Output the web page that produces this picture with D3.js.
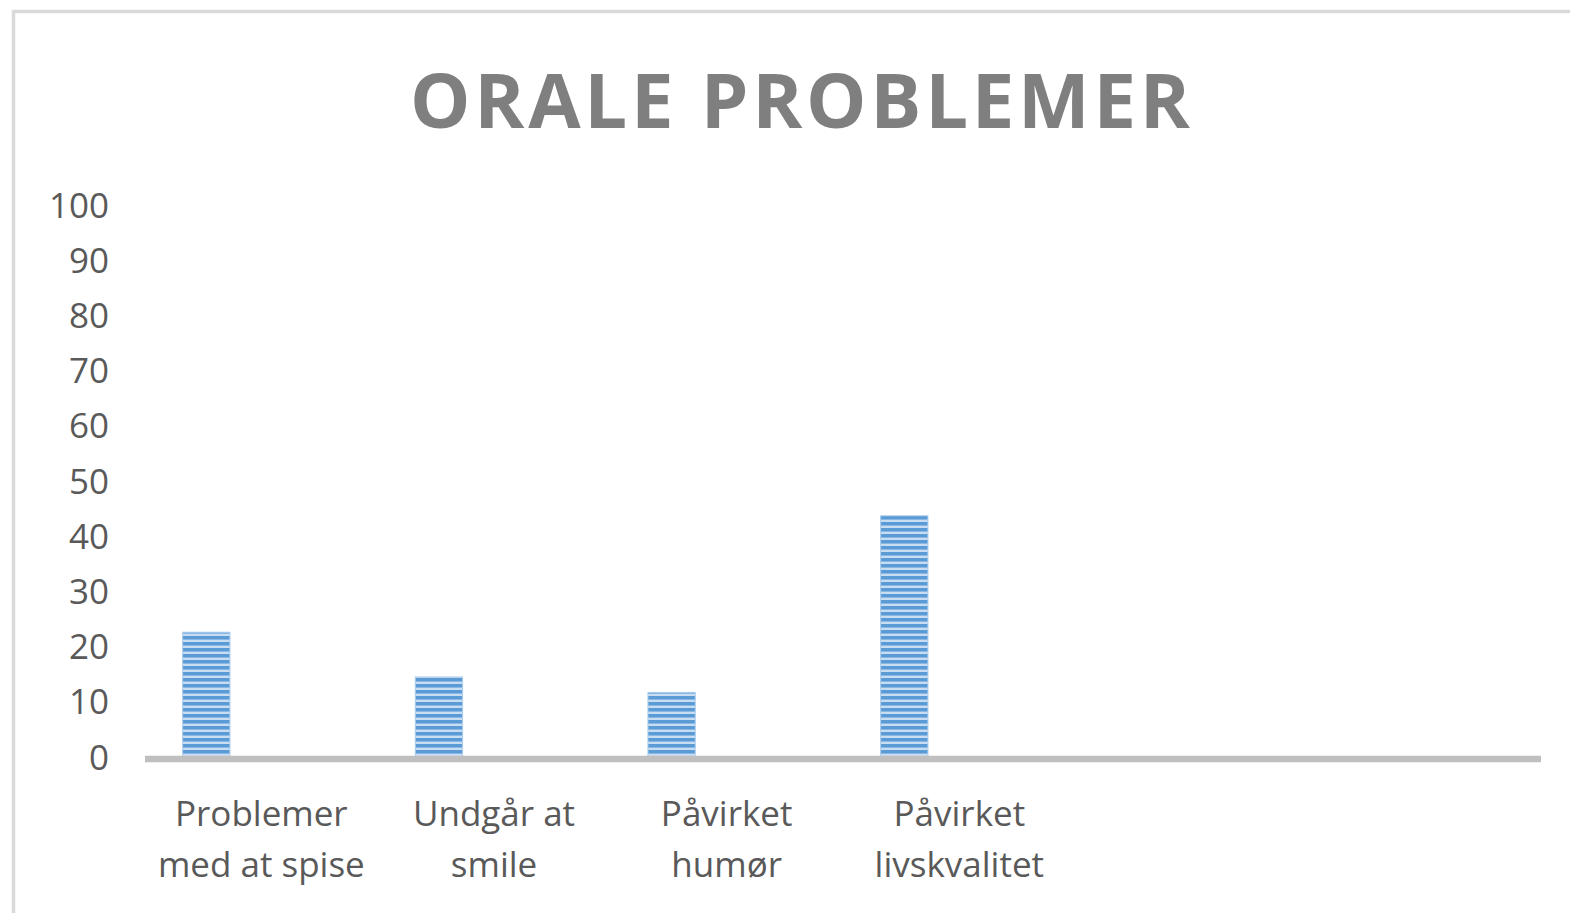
<!DOCTYPE html>
<html lang="da">
<head>
    <meta charset="UTF-8">
    <script src="https://d3js.org/d3.v7.min.js"></script>
    <title>Orale problemer</title>
    <style>
        body { margin: 0; background: #fff; }
        text { font-family: "Open Sans", "Noto Sans", sans-serif; }
    </style>
</head>
<body>
<script>
    // Data
    const title = "ORALE PROBLEMER";
    const categories = [
        ["Problemer", "med at spise"],
        ["Undgår at", "smile"],
        ["Påvirket", "humør"],
        ["Påvirket", "livskvalitet"]
    ];
    const values = [22.6, 14.5, 11.7, 43.7];
    const yTicks = [0, 10, 20, 30, 40, 50, 60, 70, 80, 90, 100];
    const slotCount = 6; // axis has room for six categories, last two empty

    const width = 1570, height = 913;

    const svg = d3.select("body").append("svg")
        .attr("width", width)
        .attr("height", height);

    // striped fill like the Excel "narrow horizontal" pattern
    const pat = svg.append("defs").append("pattern")
        .attr("id", "stripes")
        .attr("patternUnits", "userSpaceOnUse")
        .attr("width", 10).attr("height", 6);
    pat.append("rect").attr("width", 10).attr("height", 6).attr("fill", "#c9ddf2");
    pat.append("rect").attr("width", 10).attr("height", 3).attr("fill", "#5b9bd5");
    pat.append("rect").attr("y", 3).attr("width", 10).attr("height", 1).attr("fill", "#8ab8e4");

    // chart border (runs off right and bottom edge)
    svg.append("rect")
        .attr("x", 13.5).attr("y", 11.5)
        .attr("width", 1600).attr("height", 1000)
        .attr("fill", "none")
        .attr("stroke", "#d9d9d9")
        .attr("stroke-width", 3.5);

    // Title
    svg.append("text")
        .attr("x", 800).attr("y", 128)
        .attr("text-anchor", "middle")
        .attr("font-size", 76)
        .attr("font-weight", "bold")
        .attr("fill", "#7f7f7f")
        .attr("textLength", 780)
        .attr("lengthAdjust", "spacing")
        .text(title);

    // Scales
    const x = d3.scaleBand()
        .domain(d3.range(slotCount))
        .range([145, 1541]);
    const xInner = d3.scaleBand()
        .domain([0])
        .range([0, x.bandwidth()])
        .paddingOuter(1.96)
        .align(0.203);
    const y = d3.scaleLinear()
        .domain([0, 100])
        .range([757, 205]);

    // Y tick labels
    svg.append("g").selectAll("text")
        .data(yTicks)
        .enter().append("text")
        .attr("x", 109)
        .attr("y", d => y(d))
        .attr("dy", "0.36em")
        .attr("text-anchor", "end")
        .attr("font-size", 35)
        .attr("fill", "#595959")
        .text(d => d);

    // Bars
    svg.append("g").selectAll("rect")
        .data(values)
        .enter().append("rect")
        .attr("x", (d, i) => x(i) + xInner(0))
        .attr("width", xInner.bandwidth())
        .attr("y", d => y(d))
        .attr("height", d => y(0) - y(d))
        .attr("fill", "url(#stripes)")
        .attr("stroke", "#a9cbec")
        .attr("stroke-width", 1);

    // X axis line
    svg.append("line")
        .attr("x1", x.range()[0]).attr("x2", x.range()[1])
        .attr("y1", y(0) + 2).attr("y2", y(0) + 2)
        .attr("stroke", "#bfbfbf")
        .attr("stroke-width", 6.5);

    // Category labels
    const labels = svg.append("g").selectAll("text")
        .data(categories)
        .enter().append("text")
        .attr("text-anchor", "middle")
        .attr("font-size", 35)
        .attr("fill", "#595959");
    labels.selectAll("tspan")
        .data((d, i) => d.map(line => ({line, i})))
        .enter().append("tspan")
        .attr("x", d => x(d.i) + x.bandwidth() / 2)
        .attr("y", (d, j) => 826 + j * 51)
        .text(d => d.line);
</script>
</body>
</html>
